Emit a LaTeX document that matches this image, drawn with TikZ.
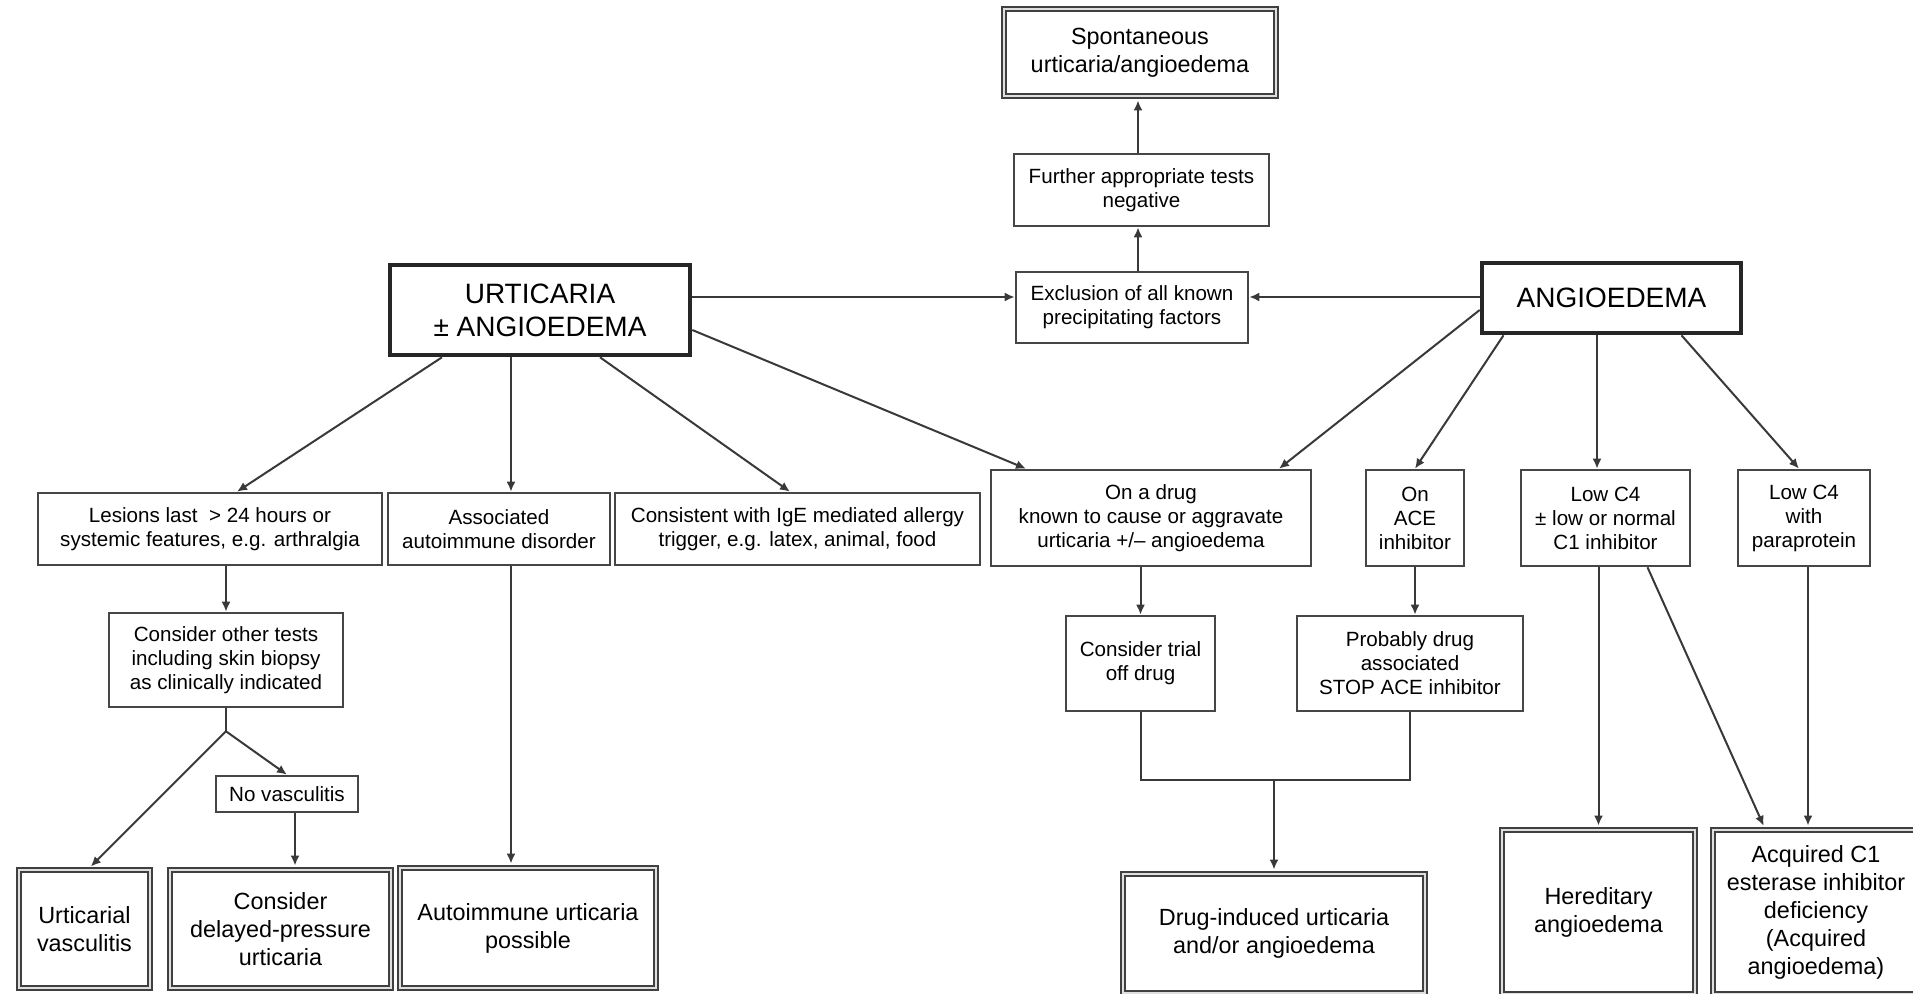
\documentclass[tikz,border=0pt]{standalone}
\usepackage{fontspec}
\setmainfont{Liberation Sans}
\usetikzlibrary{arrows.meta,calc}
\newcommand{\fsS}{\fontsize{10.3pt}{12pt}\selectfont}
\newcommand{\fsO}{\fontsize{11.7pt}{14pt}\selectfont}
\newcommand{\fsB}{\fontsize{14pt}{16.5pt}\selectfont}
\begin{document}
\begin{tikzpicture}[x=0.5pt,y=-0.5pt,
  box/.style={draw=gray!55!black, line width=1.3pt, fill=white, align=center, inner sep=0pt, font=\fsS},
  outbox/.style={draw=gray!50!black, line width=1.2pt, double=gray!25, double distance=1pt, fill=white, align=center, inner sep=0pt, font=\fsO},
  mainbox/.style={draw=black!85, line width=2.3pt, fill=white, align=center, inner sep=0pt, font=\fsB},
  conn/.style={draw=gray!45!black, line width=1pt},
  arr/.style={conn, -{Latex[length=5pt,width=4.5pt]}},
  arro/.style={arr, shorten >=1.6pt}]
\useasboundingbox (0,0) rectangle (1913,994);
\fill[white] (0,0) rectangle (1913,994);
% top
\node[outbox, minimum width=136pt, minimum height=43.5pt] (spont) at (1140,52.5) {Spontaneous\\urticaria/angioedema};
\node[box, minimum width=127.5pt, minimum height=36pt] (further) at (1141.5,190) {Further appropriate tests\\negative};
\node[box, minimum width=116pt, minimum height=35.5pt] (excl) at (1132,307.5) {Exclusion of all known\\precipitating factors};
\node[mainbox, minimum width=150pt, minimum height=45pt] (urt) at (540,310) {URTICARIA\\± ANGIOEDEMA};
\node[mainbox, minimum width=129.5pt, minimum height=35pt] (ang) at (1611.5,298) {ANGIOEDEMA};
% second row
\node[box, minimum width=172pt, minimum height=36pt] (lesions) at (210,529) {Lesions last~ > 24 hours or\\systemic features, e.g. arthralgia};
\node[box, minimum width=111pt, minimum height=36pt] (assoc) at (499,529) {Associated\\autoimmune disorder};
\node[box, minimum width=182.5pt, minimum height=36pt] (consist) at (797.5,529) {Consistent with IgE mediated allergy\\trigger, e.g. latex, animal, food};
\node[box, minimum width=160pt, minimum height=48pt] (drug) at (1151,518) {On a drug\\known to cause or aggravate\\urticaria +/– angioedema};
\node[box, minimum width=49pt, minimum height=48pt] (ace) at (1415,518) {On\\ACE\\inhibitor};
\node[box, minimum width=84.5pt, minimum height=48pt] (lowa) at (1605.5,518) {Low C4\\± low or normal\\C1 inhibitor};
\node[box, minimum width=66pt, minimum height=48pt] (lowb) at (1804,518) {Low C4\\with\\paraprotein};
% third row
\node[box, minimum width=117pt, minimum height=47pt] (consider) at (226,660) {Consider other tests\\including skin biopsy\\as clinically indicated};
\node[box, minimum width=71pt, minimum height=18pt] (novasc) at (287,794) {No vasculitis};
\node[box, minimum width=74.5pt, minimum height=47.5pt] (trial) at (1140.5,663.5) {Consider trial\\off drug};
\node[box, minimum width=113pt, minimum height=47.5pt] (prob) at (1410,663.5) {Probably drug\\associated\\STOP ACE inhibitor};
% outcomes
\node[outbox, minimum width=65.5pt, minimum height=59pt] (uvasc) at (84.5,929) {Urticarial\\vasculitis};
\node[outbox, minimum width=110.5pt, minimum height=59pt] (delayed) at (280.5,929) {Consider\\delayed-pressure\\urticaria};
\node[outbox, minimum width=128pt, minimum height=60pt] (autoimm) at (528,928) {Autoimmune urticaria\\possible};
\node[outbox, minimum width=151pt, minimum height=59.5pt] (dind) at (1274,933.5) {Drug-induced urticaria\\and/or angioedema};
\node[outbox, minimum width=96.5pt, minimum height=82pt] (hered) at (1598.5,912) {Hereditary\\angioedema};
\node[outbox, minimum width=103pt, minimum height=82pt] (acq) at (1816,912) {Acquired C1\\esterase inhibitor\\deficiency\\(Acquired\\angioedema)};
% helper coordinates
\coordinate (ey) at (0,297);
\coordinate (vx) at (1138,0);
\coordinate (va) at (511,0);
\coordinate (vb) at (1597,0);
\coordinate (my) at (0,780);
% connectors top
\draw[arr] (urt.east |- ey) -- (excl.west |- ey);
\draw[arr] (ang.west |- ey) -- (excl.east |- ey);
\draw[arr] (excl.north -| vx) -- (further.south -| vx);
\draw[arro] (further.north -| vx) -- (spont.south -| vx);
% from urticaria
\draw[arr] ([xshift=-49pt]urt.south) -- ([xshift=13.5pt]lesions.north);
\draw[arr] (urt.south -| va) -- (assoc.north -| va);
\draw[arr] ([xshift=30pt]urt.south) -- ([xshift=-3.75pt]consist.north);
\draw[arr] ([yshift=-10pt]urt.east) -- ([xshift=-62.5pt]drug.north);
% from angioedema
\draw[arr] ([yshift=-6pt]ang.west) -- ([xshift=64pt]drug.north);
\draw[arr] ([xshift=-54pt]ang.south) -- (ace.north);
\draw[arr] (ang.south -| vb) -- (lowa.north -| vb);
\draw[arr] ([xshift=35pt]ang.south) -- ([xshift=-2.5pt]lowb.north);
% left branch
\draw[arr] (consider.north |- lesions.south) -- (consider.north);
\coordinate (sp) at ($(consider.south)+(0,23)$);
\draw[conn] (consider.south) -- (sp);
\draw[arro] (sp) -- ([xshift=2pt]uvasc.north);
\draw[arr] (sp) -- (novasc.north);
\draw[arro] ([xshift=4pt]novasc.south) -- ([xshift=4pt]novasc.south |- delayed.north);
\draw[arro] (assoc.south -| va) -- (autoimm.north -| va);
% drug branch
\draw[arr] (trial.north |- drug.south) -- (trial.north);
\draw[arr] (ace.south) -- (ace.south |- prob.north);
\draw[conn] (trial.south) -- (trial.south |- my) -- (prob.south |- my) -- (prob.south);
\draw[arro] (dind.north |- my) -- (dind.north);
% C4 branch
\draw[arro] (hered.north |- lowa.south) -- (hered.north);
\draw[arro] ([xshift=21pt]lowa.south) -- ([xshift=-25.5pt]acq.north);
\draw[arro] ([xshift=2pt]lowb.south) -- ([xshift=2pt]lowb.south |- acq.north);
\end{tikzpicture}
\end{document}
